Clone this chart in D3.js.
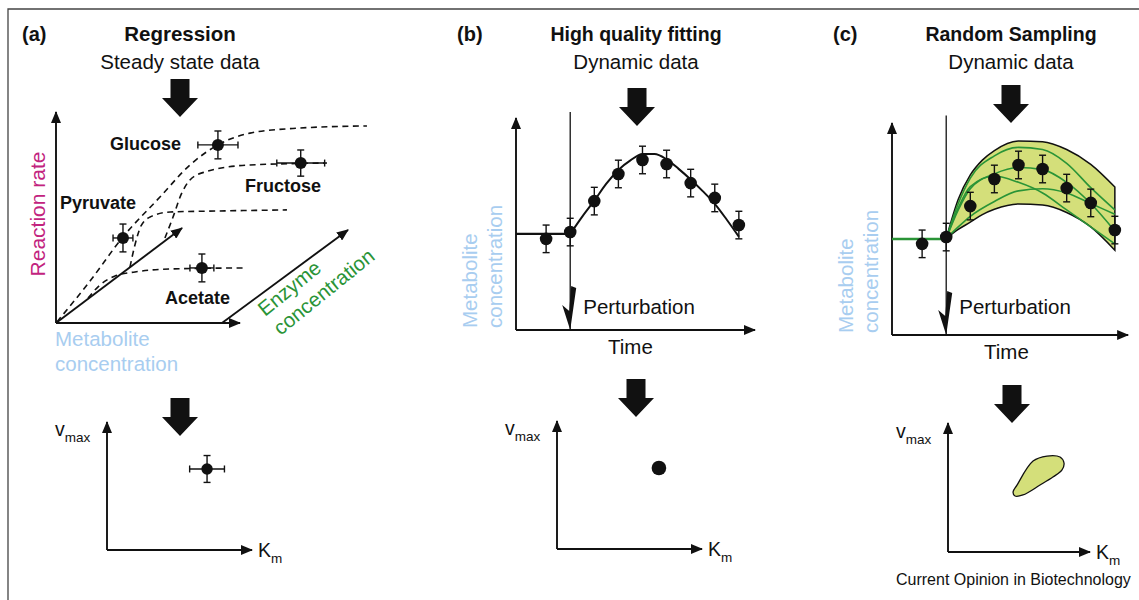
<!DOCTYPE html>
<html lang="en">
<head>
  <meta charset="UTF-8">
  <title>Kinetic parameter estimation strategies</title>
  <script src="https://d3js.org/d3.v7.min.js"></script>
  <style>
    body, html {
      margin: 0;
      padding: 0;
      background-color: #fff;
      overflow: hidden;
    }
    text {
      font-family: 'Liberation Sans', Arial, Helvetica, sans-serif;
      fill: #111;
    }
  </style>
</head>
<body>
  <svg id="chart"></svg>

  <script>
    // ---- data ----

    // panel (a): steady state measurements for four substrates
    const substrates = ["Glucose", "Fructose", "Pyruvate", "Acetate"];
    const substrateConc = [8.8, 13.3, 3.64, 7.93];
    const substrateRate = [8.44, 7.58, 4.03, 2.61];
    const substrateConcErr = [1.09, 1.3, 0.54, 0.65];
    const substrateRateErr = [0.66, 0.62, 0.66, 0.66];
    const saturationCurves = [
      [[0.05, 0.05], [1.85, 1.99], [3.64, 4.08], [5.65, 5.97], [7.28, 7.49], [8.8, 8.44], [10.54, 9.0], [13.26, 9.24], [16.9, 9.34]],
      [[5.92, 4.03], [6.36, 5.02], [6.79, 6.07], [7.28, 6.78], [8.1, 7.16], [10.54, 7.49], [14.73, 7.58]],
      [[4.02, 2.65], [4.29, 3.7], [4.62, 4.6], [5.11, 5.02], [6.2, 5.26], [8.91, 5.31], [12.55, 5.36]],
      [[1.74, 1.18], [2.39, 1.8], [3.21, 2.23], [4.29, 2.42], [6.2, 2.56], [10.27, 2.61]]
    ];

    // panels (b) and (c): time course after a perturbation
    const timePoints = [0, 1, 2, 3, 4, 5, 6, 7, 8];
    const concValues = [4.3, 4.62, 6.08, 7.36, 8.02, 7.83, 6.93, 6.23, 4.95];
    const concErr = 0.65;
    const steadyLevel = 4.53;
    const perturbationTime = 1;
    const fitTimes = [1, 1.5, 2, 2.5, 3, 3.5, 4, 4.5, 5, 5.5, 6, 6.5, 7, 7.5, 8];
    const fitValues = [4.53, 5.35, 6.1, 6.9, 7.55, 8.0, 8.3, 8.3, 8.05, 7.6, 7.1, 6.55, 5.95, 5.2, 4.4];

    // panel (c): envelope of sampled parameter sets and a few sampled trajectories
    const bandTimes = [1, 1.5, 2, 2.5, 3, 4, 5, 6, 7, 8];
    const bandLow = [4.55, 4.98, 5.32, 5.68, 5.93, 6.18, 6.13, 5.78, 5.1, 4.0];
    const bandHigh = [4.55, 6.4, 7.55, 8.25, 8.7, 9.15, 9.12, 8.75, 8.05, 6.98];
    const sampleTimes = [1, 1.5, 2, 3, 4, 5, 6, 7, 8];
    const sampledCurves = [
      [4.55, 6.2, 7.4, 8.45, 8.85, 8.75, 8.1, 6.95, 5.9],
      [4.55, 5.9, 6.9, 7.6, 7.9, 7.8, 7.2, 6.2, 4.9],
      [4.55, 6.0, 7.0, 7.5, 7.2, 6.7, 5.9, 5.1, 4.3],
      [4.55, 5.1, 5.6, 6.3, 6.8, 6.9, 6.7, 6.2, 5.7]
    ];

    // bottom row: Km / vmax estimates
    const regressionEstimate = [6.9, 6.33];
    const regressionErr = [1.2, 1.05];
    const fittingEstimate = [7.03, 6.33];
    const samplingRegionKm = [4.86, 5.99, 6.97, 7.89, 8.17, 8.03, 7.39, 6.48, 5.28, 4.72, 4.58];
    const samplingRegionVmax = [5.19, 7.05, 7.44, 7.36, 6.9, 6.36, 5.81, 5.19, 4.42, 4.34, 4.65];

    // ---- drawing ----
    const width = 1139, height = 600;
    const ink = "#111";
    const paleBlue = "#a8cdf0";
    const green = "#2a9437";

    const svg = d3.select("#chart")
      .attr("width", width)
      .attr("height", height);

    svg.append("defs").append("marker")
      .attr("id", "tip")
      .attr("viewBox", "0 0 12 10")
      .attr("refX", 11)
      .attr("refY", 5)
      .attr("markerWidth", 12)
      .attr("markerHeight", 10)
      .attr("markerUnits", "userSpaceOnUse")
      .attr("orient", "auto")
      .append("path")
      .attr("d", "M0,0L12,5L0,10Z")
      .attr("fill", ink);

    // frame (only top and left edges are inside the picture)
    svg.append("path")
      .attr("d", `M8,${height}V9H${width}`)
      .attr("fill", "none")
      .attr("stroke", "#444")
      .attr("stroke-width", 1.3);

    function axisLine(x1, y1, x2, y2) {
      svg.append("line")
        .attr("x1", x1).attr("y1", y1)
        .attr("x2", x2).attr("y2", y2)
        .attr("stroke", ink)
        .attr("stroke-width", 1.9)
        .attr("marker-end", "url(#tip)");
    }

    function blockArrow(cx, top) {
      const p = [[cx - 9.5, top], [cx + 9.5, top], [cx + 9.5, top + 19], [cx + 18, top + 19],
                 [cx, top + 38], [cx - 18, top + 19], [cx - 9.5, top + 19]];
      svg.append("polygon").attr("points", p.join(" ")).attr("fill", ink);
    }

    function text(str, x, y, opts = {}) {
      return svg.append("text")
        .attr("x", x).attr("y", y)
        .attr("text-anchor", opts.anchor || "start")
        .style("font-size", (opts.size || 20.5) + "px")
        .style("font-weight", opts.bold ? "bold" : "normal")
        .style("fill", opts.color || ink)
        .text(str);
    }

    function twoLines(lines, x, y, angle, color) {
      const t = svg.append("text")
        .attr("transform", `translate(${x},${y}) rotate(${angle})`)
        .style("font-size", "20.5px")
        .style("fill", color);
      lines.forEach((l, i) => t.append("tspan").attr("x", 0).attr("y", i * 24.5).text(l));
    }

    function subLabel(main, sub, x, y) {
      const t = svg.append("text").attr("x", x).attr("y", y).style("font-size", "19px");
      t.append("tspan").text(main);
      t.append("tspan").attr("dy", 6).style("font-size", "13px").text(sub);
    }

    function errorPoint(cx, cy, x0, x1, y0, y1, r) {
      const g = svg.append("g").attr("stroke", ink).attr("stroke-width", 1.4);
      if (x0 != null) {
        g.append("line").attr("x1", x0).attr("x2", x1).attr("y1", cy).attr("y2", cy);
        g.append("line").attr("x1", x0).attr("x2", x0).attr("y1", cy - 3.5).attr("y2", cy + 3.5);
        g.append("line").attr("x1", x1).attr("x2", x1).attr("y1", cy - 3.5).attr("y2", cy + 3.5);
      }
      g.append("line").attr("x1", cx).attr("x2", cx).attr("y1", y0).attr("y2", y1);
      g.append("line").attr("x1", cx - 3.5).attr("x2", cx + 3.5).attr("y1", y0).attr("y2", y0);
      g.append("line").attr("x1", cx - 3.5).attr("x2", cx + 3.5).attr("y1", y1).attr("y2", y1);
      svg.append("circle").attr("cx", cx).attr("cy", cy).attr("r", r).attr("fill", ink);
    }

    // ---- panel (a) ----
    const xA = d3.scaleLinear().domain([0, 10]).range([56, 240]);
    const yA = d3.scaleLinear().domain([0, 10]).range([323, 112]);

    text("(a)", 22, 41, { bold: true, size: 20 });
    text("Regression", 180, 41, { bold: true, size: 20.5, anchor: "middle" });
    text("Steady state data", 180, 69, { anchor: "middle" });
    blockArrow(180, 79);

    axisLine(xA(0), yA(0), xA(0), yA(10));
    axisLine(xA(0), yA(0), xA(10), yA(0));
    axisLine(xA(0), yA(0), xA(6.85), yA(4.5));
    axisLine(xA(9.02), yA(0), xA(15.87), yA(4.41));

    const lineA = d3.line().x(d => xA(d[0])).y(d => yA(d[1])).curve(d3.curveMonotoneX);
    svg.append("g").selectAll("path")
      .data(saturationCurves)
      .join("path")
      .attr("d", lineA)
      .attr("fill", "none")
      .attr("stroke", ink)
      .attr("stroke-width", 1.6)
      .attr("stroke-dasharray", "6,4.5");

    substrates.forEach((s, i) => {
      const cx = xA(substrateConc[i]), cy = yA(substrateRate[i]);
      errorPoint(cx, cy,
        xA(substrateConc[i] - substrateConcErr[i]), xA(substrateConc[i] + substrateConcErr[i]),
        yA(substrateRate[i] + substrateRateErr[i]), yA(substrateRate[i] - substrateRateErr[i]), 6);
    });

    text("Glucose", 110, 150, { bold: true, size: 18 });
    text("Fructose", 245, 192, { bold: true, size: 18 });
    text("Pyruvate", 60, 209, { bold: true, size: 18 });
    text("Acetate", 165, 304, { bold: true, size: 18 });

    svg.append("text")
      .attr("transform", "translate(45,214) rotate(-90)")
      .attr("text-anchor", "middle")
      .style("font-size", "21px")
      .style("fill", "#c2237e")
      .text("Reaction rate");
    twoLines(["Metabolite", "concentration"], 55, 346, 0, paleBlue);
    twoLines(["Enzyme", "concentration"], 265, 317, -39, green);

    // ---- panels (b) and (c) ----
    function dynamicPanel(x0, y0, axisEnd, yTop, withBand) {
      const x = d3.scaleLinear().domain([-1.25, 8.67]).range([x0, x0 + 239]);
      const y = d3.scaleLinear().domain([0, 10]).range([y0, y0 - 212]);

      axisLine(x(-1.25), y(0), x(-1.25), y(10));
      axisLine(x(-1.25), y(0), x(axisEnd), y(0));

      const line = d3.line().x(d => x(d[0])).y(d => y(d[1])).curve(d3.curveMonotoneX);

      if (withBand) {
        const area = d3.area()
          .x(d => x(d))
          .y0((d, i) => y(bandLow[i]))
          .y1((d, i) => y(bandHigh[i]))
          .curve(d3.curveMonotoneX);
        svg.append("path")
          .datum(bandTimes)
          .attr("d", area)
          .attr("fill", "#d4df7a")
          .attr("stroke", ink)
          .attr("stroke-width", 1.5);
        svg.append("g").selectAll("path")
          .data(sampledCurves)
          .join("path")
          .attr("d", vals => line(vals.map((v, i) => [sampleTimes[i], v])))
          .attr("fill", "none")
          .attr("stroke", green)
          .attr("stroke-width", 1.6);
        svg.append("line")
          .attr("x1", x(-1.25)).attr("x2", x(perturbationTime))
          .attr("y1", y(steadyLevel)).attr("y2", y(steadyLevel))
          .attr("stroke", green).attr("stroke-width", 2.6);
      } else {
        svg.append("path")
          .attr("d", line([[-1.25, steadyLevel], [perturbationTime, steadyLevel]]))
          .attr("fill", "none").attr("stroke", ink).attr("stroke-width", 2.2);
        svg.append("path")
          .attr("d", line(fitTimes.map((t, i) => [t, fitValues[i]])))
          .attr("fill", "none").attr("stroke", ink).attr("stroke-width", 2);
      }

      // perturbation marker
      const px = x(perturbationTime);
      svg.append("line")
        .attr("x1", px).attr("x2", px)
        .attr("y1", y(yTop)).attr("y2", y(0))
        .attr("stroke", ink).attr("stroke-width", 1.3);
      svg.append("polygon")
        .attr("points", [[px + 1, y(0) - 44], [px + 6, y(0) - 42], [px, y(0)], [px - 8, y(0) - 25], [px - 1, y(0) - 19]].join(" "))
        .attr("fill", ink);

      timePoints.forEach((t, i) => {
        errorPoint(x(t), y(concValues[i]), null, null,
          y(concValues[i] + concErr), y(concValues[i] - concErr), 6.3);
      });

      text("Perturbation", px + 13, 314);
      text("Time", x(3.5), y0 + 24, { anchor: "middle" });
      twoLines(["Metabolite", "concentration"], x0 - 39, y0 - 2, -90, paleBlue);
    }

    text("(b)", 457, 41, { bold: true, size: 20 });
    text("High quality fitting", 636, 41, { bold: true, size: 19.5, anchor: "middle" });
    text("Dynamic data", 636, 69, { anchor: "middle" });
    blockArrow(637, 88);
    dynamicPanel(516, 330, 8.67, 10.28, false);

    text("(c)", 833, 41, { bold: true, size: 20 });
    text("Random Sampling", 1011, 41, { bold: true, size: 19.5, anchor: "middle" });
    text("Dynamic data", 1011, 69, { anchor: "middle" });
    blockArrow(1011, 85);
    dynamicPanel(892, 335, 8.55, 10.35, true);

    // ---- bottom row: parameter space ----
    function paramAxes(ox, oy, w, h) {
      const x = d3.scaleLinear().domain([0, 10]).range([ox, ox + w]);
      const y = d3.scaleLinear().domain([0, 10]).range([oy, oy - h]);
      axisLine(x(0), y(0), x(0), y(10));
      axisLine(x(0), y(0), x(10), y(0));
      subLabel("v", ox - 52, oy - 114, "max");
      subLabel("K", x(10) + 6, oy + 7, "m");
      return { x, y };
    }

    function subLabel(main, x, y, sub) {
      const t = svg.append("text").attr("x", x).attr("y", y).style("font-size", "19.5px");
      t.append("tspan").text(main);
      t.append("tspan").attr("dy", 6).style("font-size", "13.5px").text(sub);
    }

    blockArrow(180, 398);
    const pa = paramAxes(107, 550, 145, 128);
    errorPoint(pa.x(regressionEstimate[0]), pa.y(regressionEstimate[1]),
      pa.x(regressionEstimate[0] - regressionErr[0]), pa.x(regressionEstimate[0] + regressionErr[0]),
      pa.y(regressionEstimate[1] + regressionErr[1]), pa.y(regressionEstimate[1] - regressionErr[1]), 5.7);

    blockArrow(636, 379);
    const pb = paramAxes(557, 549, 145, 128);
    svg.append("circle")
      .attr("cx", pb.x(fittingEstimate[0]))
      .attr("cy", pb.y(fittingEstimate[1]))
      .attr("r", 7.3)
      .attr("fill", ink);

    blockArrow(1012, 385);
    const pc = paramAxes(948, 552, 142, 129);
    svg.append("path")
      .attr("d", d3.line().x(d => pc.x(d[0])).y(d => pc.y(d[1])).curve(d3.curveCatmullRomClosed)(
        samplingRegionKm.map((k, i) => [k, samplingRegionVmax[i]])))
      .attr("fill", "#d4df7a")
      .attr("stroke", ink)
      .attr("stroke-width", 1.3);

    text("Current Opinion in Biotechnology", 896, 585, { size: 16 });
  </script>
</body>
</html>
